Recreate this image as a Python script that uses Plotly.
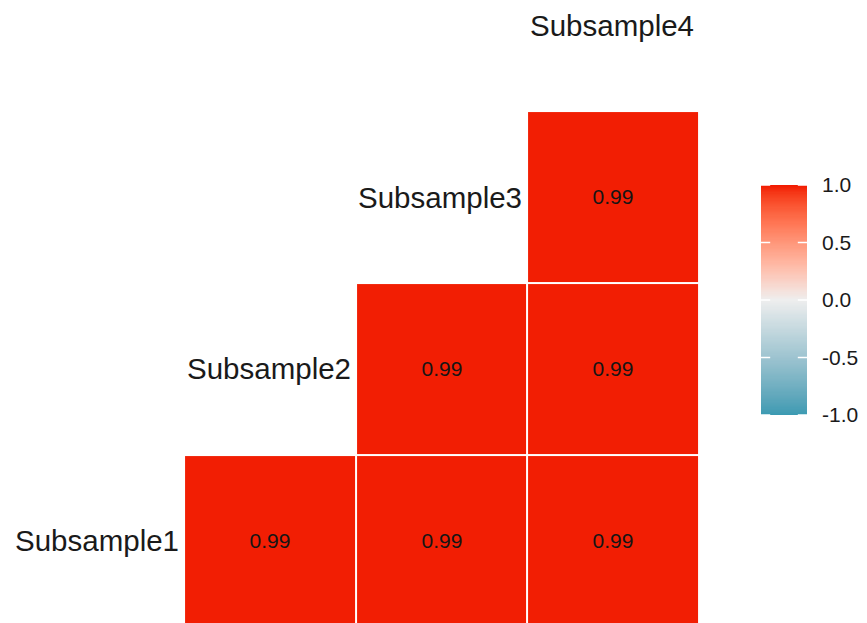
import plotly.graph_objects as go

# Variables and pairwise correlations (lower triangle, rounded to 2 dp)
variables = ["Subsample1", "Subsample2", "Subsample3", "Subsample4"]
# rows: y-level 1..3 (bottom to top), columns: x-level 1..3
corr_rows = [
    [0.99, 0.99, 0.99],
    [None, 0.99, 0.99],
    [None, None, 0.99],
]
legend_ticks = [-1.0, -0.5, 0.0, 0.5, 1.0]

LOW, MID, HIGH = "#3B9AB2", "#EEEEEE", "#F21A00"


# ---- diverging palette interpolated in CIELAB space ----
def _srgb_to_lin(c):
    return c / 12.92 if c <= 0.04045 else ((c + 0.055) / 1.055) ** 2.4


def _lin_to_srgb(c):
    c = max(0.0, min(1.0, c))
    return 12.92 * c if c <= 0.0031308 else 1.055 * c ** (1 / 2.4) - 0.055


WHITE = (0.95047, 1.0, 1.08883)


def hex_to_lab(h):
    r, g, b = (int(h[i:i + 2], 16) / 255 for i in (1, 3, 5))
    r, g, b = _srgb_to_lin(r), _srgb_to_lin(g), _srgb_to_lin(b)
    X = 0.4124 * r + 0.3576 * g + 0.1805 * b
    Y = 0.2126 * r + 0.7152 * g + 0.0722 * b
    Z = 0.0193 * r + 0.1192 * g + 0.9505 * b

    def f(t):
        return t ** (1 / 3) if t > 0.008856 else 7.787 * t + 16 / 116

    fx, fy, fz = f(X / WHITE[0]), f(Y / WHITE[1]), f(Z / WHITE[2])
    return (116 * fy - 16, 500 * (fx - fy), 200 * (fy - fz))


def lab_to_rgb(L, a, b):
    fy = (L + 16) / 116
    fx = fy + a / 500
    fz = fy - b / 200

    def finv(t):
        return t ** 3 if t ** 3 > 0.008856 else (t - 16 / 116) / 7.787

    X, Y, Z = finv(fx) * WHITE[0], finv(fy) * WHITE[1], finv(fz) * WHITE[2]
    r = 3.2406 * X - 1.5372 * Y - 0.4986 * Z
    g = -0.9689 * X + 1.8758 * Y + 0.0415 * Z
    bb = 0.0557 * X - 0.2040 * Y + 1.0570 * Z
    return "rgb(%d,%d,%d)" % tuple(round(255 * _lin_to_srgb(c)) for c in (r, g, bb))


def lab_ramp(c0, c1, n):
    l0, l1 = hex_to_lab(c0), hex_to_lab(c1)
    return [lab_to_rgb(*[l0[k] + (l1[k] - l0[k]) * i / n for k in range(3)]) for i in range(n + 1)]


N = 12
lower = lab_ramp(LOW, MID, N)
upper = lab_ramp(MID, HIGH, N)
colorscale = [[0.5 * i / N, c] for i, c in enumerate(lower)]
colorscale += [[0.5 + 0.5 * i / N, c] for i, c in enumerate(upper) if i > 0]

FONT = "Liberation Sans, Arial, sans-serif"
W, H = 867, 623

ncol = len(variables) - 1
x_levels = list(range(1, ncol + 1))
y_levels = list(range(1, ncol + 1))

fig = go.Figure()
fig.add_trace(
    go.Heatmap(
        x=x_levels,
        y=y_levels,
        z=corr_rows,
        zmin=-1,
        zmax=1,
        colorscale=colorscale,
        showscale=False,
        xgap=2,
        ygap=2,
        texttemplate="%{z:.2f}",
        textfont=dict(family=FONT, size=21, color="#151515"),
        hoverinfo="skip",
    )
)

# Variable names on the diagonal, right-aligned against each column
for k, name in enumerate(variables, start=1):
    fig.add_annotation(
        x=k - 0.5,
        y=k,
        text=name,
        showarrow=False,
        xanchor="right",
        yanchor="middle",
        xshift=-3,
        font=dict(family=FONT, size=29.5, color="#1a1a1a"),
    )

# ---- colour legend: a gradient strip on its own axes ----
n_steps = 201
grad_vals = [-1 + 2 * i / (n_steps - 1) for i in range(n_steps)]
fig.add_trace(
    go.Heatmap(
        x=[0],
        y=grad_vals,
        z=[[v] for v in grad_vals],
        zmin=-1,
        zmax=1,
        colorscale=colorscale,
        showscale=False,
        xaxis="x2",
        yaxis="y2",
        hoverinfo="skip",
    )
)

# white tick marks on both edges of the strip
for v in legend_ticks:
    for x0, x1 in ((-0.5, -0.3), (0.3, 0.5)):
        fig.add_shape(
            type="line",
            xref="x2",
            yref="y2",
            x0=x0,
            x1=x1,
            y0=v,
            y1=v,
            line=dict(color="white", width=1.5),
            layer="above",
        )

fig.update_layout(
    width=W,
    height=H,
    margin=dict(l=0, r=0, t=0, b=0, pad=0, autoexpand=False),
    paper_bgcolor="white",
    plot_bgcolor="white",
    xaxis=dict(range=[-0.572, 4.478], domain=[0, 1], visible=False,
               showgrid=False, zeroline=False, automargin=False),
    yaxis=dict(range=[0.522, 4.146], domain=[0, 1], visible=False,
               showgrid=False, zeroline=False, automargin=False),
    xaxis2=dict(range=[-0.5, 0.5], domain=[761 / W, 807 / W], anchor="y2",
                visible=False, showgrid=False, zeroline=False, automargin=False),
    yaxis2=dict(
        range=[-1, 1],
        domain=[1 - 415 / H, 1 - 185 / H],
        anchor="x2",
        side="right",
        automargin=False,
        showgrid=False,
        zeroline=False,
        showline=False,
        ticks="",
        tickvals=legend_ticks,
        ticktext=["%.1f" % v for v in legend_ticks],
        ticklabelstandoff=14,
        tickfont=dict(family=FONT, size=21, color="#1a1a1a"),
    ),
    showlegend=False,
)

fig.write_html("out.html")
